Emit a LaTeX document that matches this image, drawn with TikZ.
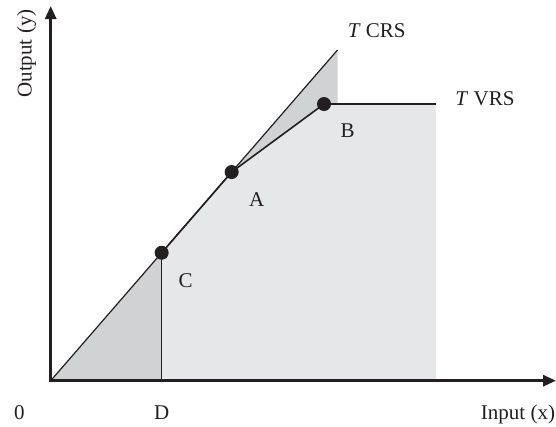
\documentclass[tikz,border=0pt]{standalone}
\usepackage{fontspec}
\setmainfont{Liberation Serif}
\usetikzlibrary{arrows.meta,calc}
\definecolor{ink}{HTML}{231F20}
\definecolor{darkfill}{HTML}{D1D2D4}
\definecolor{lightfill}{HTML}{E6E7E8}
\begin{document}
\begin{tikzpicture}[x=1pt,y=-1pt,
  lbl/.style={anchor=base,inner sep=0pt,text=ink,font=\fontsize{21}{25}\selectfont},
  dot/.style={circle,fill=ink,inner sep=0pt,minimum size=14pt},
  axis/.style={draw=ink,line width=2.8pt,{Triangle[length=13pt,width=11pt]}-{Triangle[length=13pt,width=11pt]}},
  frontier/.style={draw=ink,line width=1.6pt},
  thin/.style={draw=ink,line width=1.2pt}]
\useasboundingbox (0,0) rectangle (556,426);
% key points
\coordinate (O) at (50.7,380.7);
\coordinate (T) at (337.5,50);
\coordinate (C0) at ($(O)!0.387!(T)$);
\coordinate (A0) at ($(O)!0.631!(T)$);
\coordinate (B0) at (324,104);
\coordinate (E) at (436,104);
\coordinate (F) at (436,380.7);
\coordinate (D0) at (C0 |- O);
\coordinate (TB) at (337.5,104);
\coordinate (ytip) at (50.7,6);
\coordinate (xtip) at (556,380.7);
% fills
\fill[lightfill] (D0) -- (C0) -- (A0) -- (B0) -- (E) -- (F) -- cycle;
\fill[darkfill] (O) -- (C0) -- (D0) -- cycle;
\fill[darkfill] (A0) -- (T) -- (TB) -- (B0) -- cycle;
% lines
\draw[thin] (O) -- (T);
\draw[thin] (C0) -- (D0);
\draw[frontier] (C0) -- (A0) -- (B0) -- (E);
\draw[axis] (ytip) -- (O) -- (xtip);
% dots
\node[dot] (C) at (C0) {};
\node[dot] (A) at (A0) {};
\node[dot] (B) at (B0) {};
% labels
\node[lbl] (lC) at (185.7,287.3) {C};
\node[lbl] (lA) at (256.7,206) {A};
\node[lbl] (lB) at (347.7,137.5) {B};
\node[lbl] (lTC) at (376.7,37.3) {\textit{T} CRS};
\node[lbl] (lTV) at (485,105) {\textit{T} VRS};
\node[lbl] (l0) at (19.3,419) {0};
\node[lbl] (lD) at (161.7,419) {D};
\node[lbl] (lIn) at (518,419) {Input (x)};
\node[lbl,rotate=90] (lOut) at (31.5,53.5) {Output (y)};
\end{tikzpicture}
\end{document}
